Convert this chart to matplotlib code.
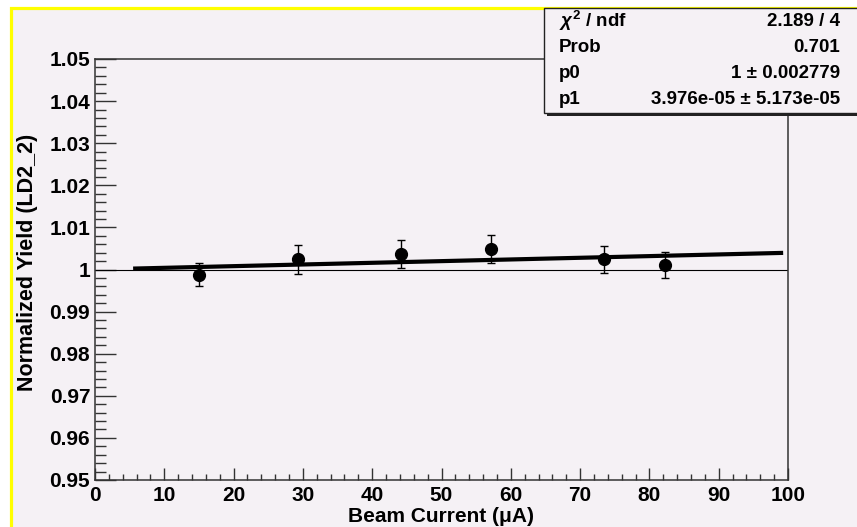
import matplotlib
matplotlib.use("Agg")
import matplotlib.pyplot as plt
from matplotlib.patches import Rectangle
from matplotlib.ticker import MultipleLocator, FuncFormatter

# ---- data ----
beam_current = [15.0, 29.3, 44.2, 57.1, 73.5, 82.2]
norm_yield = [0.9988, 1.0024, 1.0037, 1.0049, 1.0024, 1.0010]
yield_err = [0.0028, 0.0035, 0.0034, 0.0034, 0.0032, 0.0031]

fit_p0 = 1.0
fit_p1 = 3.976e-05
fit_range = [5.5, 99.3]

stat_labels = [r"$\chi^{2}$ / ndf", "Prob", "p0", "p1"]
stat_values = ["2.189 / 4", "0.701", "1 \u00b1 0.002779", "3.976e-05 \u00b1 5.173e-05"]

x_label = "Beam Current (\u03bcA)"
y_label = "Normalized Yield (LD2_2)"

# ---- styling ----
W, H = 857, 527
BG = "#f5f1f5"
FONT = "Liberation Sans"
plt.rcParams["font.family"] = [FONT, "DejaVu Sans"]
plt.rcParams["font.weight"] = "bold"
plt.rcParams["mathtext.fontset"] = "custom"
plt.rcParams["mathtext.rm"] = "Liberation Sans:bold"
plt.rcParams["mathtext.it"] = "Liberation Sans:italic"
plt.rcParams["mathtext.bf"] = "Liberation Sans:bold"


def fx(px):
    return px / W


def fy(py):
    return 1 - py / H


fig = plt.figure(figsize=(W / 100, H / 100), dpi=100, facecolor="white")

# canvas frame (yellow top/left border)
fig.add_artist(Rectangle((fx(10.5), fy(560)), fx(900), fy(7.5) - fy(560),
                         transform=fig.transFigure, facecolor=BG,
                         edgecolor="#ffff00", linewidth=2.3, zorder=0))

ax = fig.add_axes([fx(95), fy(480), (788 - 95) / W, (480 - 59) / H])
ax.set_facecolor(BG)
ax.patch.set_alpha(0)

ax.set_xlim(0, 100)
ax.set_ylim(0.95, 1.05)

ax.axhline(1.0, color="black", lw=0.8, zorder=2)

fx_line = fit_range
fy_line = [fit_p0 + fit_p1 * v for v in fit_range]
ax.plot(fx_line, fy_line, color="black", lw=3.0, zorder=3, solid_capstyle="butt")

ax.errorbar(beam_current, norm_yield, yerr=yield_err, fmt="o", color="black",
            ms=8.5, elinewidth=1.0, capsize=3, capthick=1.0, zorder=4)

spine_col = "#333333"
for s in ax.spines.values():
    s.set_color(spine_col)
    s.set_linewidth(1.1)

ax.xaxis.set_major_locator(MultipleLocator(10))
ax.xaxis.set_minor_locator(MultipleLocator(2))
ax.yaxis.set_major_locator(MultipleLocator(0.01))
ax.yaxis.set_minor_locator(MultipleLocator(0.002))
ax.yaxis.set_major_formatter(FuncFormatter(lambda v, p: f"{round(v, 3):g}"))
ax.xaxis.set_major_formatter(FuncFormatter(lambda v, p: f"{round(v):d}"))

ax.tick_params(axis="both", which="both", direction="in", color=spine_col,
               width=1.0, top=False, right=False, labelsize=15)
ax.tick_params(axis="x", which="major", length=8.5, pad=4.0)
ax.tick_params(axis="x", which="minor", length=4.5)
ax.tick_params(axis="y", which="major", length=15, pad=3.5)
ax.tick_params(axis="y", which="minor", length=8)
for lab in ax.get_xticklabels() + ax.get_yticklabels():
    lab.set_fontweight("bold")

fig.text(fx(441), fy(517), x_label, ha="center", va="center",
         fontsize=15, fontweight="bold")
fig.text(fx(28), fy(262), y_label, ha="center", va="center", rotation=90,
         fontsize=15.5, fontweight="bold")

# stats box with shadow
bx0, by_top, by_bot = 544, 8, 113
fig.add_artist(Rectangle((fx(bx0 + 3), fy(by_bot + 3)), fx(400), fy(by_top + 3) - fy(by_bot + 3),
                         transform=fig.transFigure, facecolor="#222222",
                         edgecolor="none", zorder=10))
fig.add_artist(Rectangle((fx(bx0), fy(by_bot)), fx(400), fy(by_top) - fy(by_bot),
                         transform=fig.transFigure, facecolor=BG,
                         edgecolor="#222222", linewidth=1.0, zorder=11))
row_y = [21, 47, 73, 99]
for lab, val, ry in zip(stat_labels, stat_values, row_y):
    fig.text(fx(559), fy(ry), lab, ha="left", va="center", fontsize=13.5,
             fontweight="bold", zorder=12)
    fig.text(fx(840), fy(ry), val, ha="right", va="center", fontsize=13.5,
             fontweight="bold", zorder=12)

fig.savefig("out.png", dpi=100, facecolor="white")
